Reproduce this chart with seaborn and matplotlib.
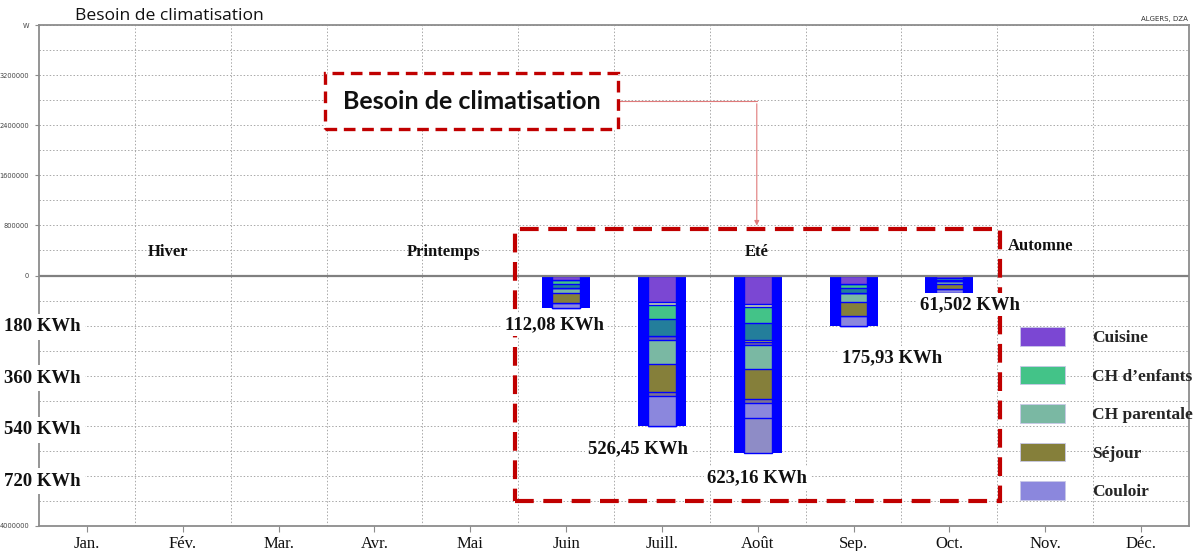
import numpy as np
import pandas as pd
import matplotlib
matplotlib.use("Agg")
import matplotlib.pyplot as plt
import matplotlib.transforms as mtransforms
from matplotlib.patches import Patch, Rectangle
import seaborn as sns

# ---------------------------------------------------------------- data
months = ["Jan.", "Fév.", "Mar.", "Avr.", "Mai", "Juin", "Juill.", "Août",
          "Sep.", "Oct.", "Nov.", "Déc."]

# monthly cooling need (KWh)
cooling_kwh = [0, 0, 0, 0, 0, 112.08, 526.45, 623.16, 175.93, 61.502, 1.5, 0]

# breakdown by zone, listed from the top of each bar downwards (KWh)
cuisine      = [0, 0, 0, 0, 0, 17.24, 93.8, 101.05, 31.42, 10.2, 0, 0]
bande_claire = [0, 0, 0, 0, 0, 0, 10.8, 10.1, 0, 0, 0, 0]
ch_enfants   = [0, 0, 0, 0, 0, 12.93, 46.9, 53.9, 12.57, 4.1, 0, 0]
zone_bleue   = [0, 0, 0, 0, 0, 12.93, 61.3, 60.6, 18.85, 6.2, 0, 0]
bande_jaune  = [0, 0, 0, 0, 0, 0, 0, 6.7, 0, 0, 0, 0]
bande_mauve  = [0, 0, 0, 0, 0, 0, 14.4, 10.1, 0, 0, 0, 0]
ch_parentale = [0, 0, 0, 0, 0, 17.24, 82.9, 84.2, 28.27, 9.3, 0, 0]
sejour       = [0, 0, 0, 0, 0, 34.49, 97.4, 104.4, 50.27, 18.9, 0, 0]
bande_grise  = [0, 0, 0, 0, 0, 0, 14.4, 16.8, 0, 0, 0, 0]
couloir      = [0, 0, 0, 0, 0, 17.25, 104.55, 50.5, 34.55, 12.802, 0, 0]
couloir_bas  = [0, 0, 0, 0, 0, 0, 0, 124.81, 0, 0, 0, 0]

seasons = ["Hiver", "Printemps", "Eté", "Automne"]
scale_labels_kwh = [180, 360, 540, 720]
legend_zones = ["Cuisine", "CH d’enfants", "CH parentale", "Séjour", "Couloir"]

# ---------------------------------------------------------------- styling
W_PER_KWH = 4560.0          # power axis units per KWh of bar length
SERIF = "Liberation Serif"
SANS = "Lato"
RED = "#C00000"
BLUE = "#0000FF"
GRID = "#A8A8A8"
SPINE = "#8C8C8C"

segments = pd.DataFrame({
    "Cuisine": cuisine,
    "bande_claire": bande_claire,
    "CH d’enfants": ch_enfants,
    "zone_bleue": zone_bleue,
    "bande_jaune": bande_jaune,
    "bande_mauve": bande_mauve,
    "CH parentale": ch_parentale,
    "Séjour": sejour,
    "bande_grise": bande_grise,
    "Couloir": couloir,
    "couloir_bas": couloir_bas,
}, index=months)

zone_colors = {
    "Cuisine": "#7B47D3",
    "bande_claire": "#C9D6A6",
    "CH d’enfants": "#43C388",
    "zone_bleue": "#237E9B",
    "bande_jaune": "#C8C830",
    "bande_mauve": "#6E5FA8",
    "CH parentale": "#7AB8A3",
    "Séjour": "#857F3A",
    "bande_grise": "#7D7390",
    "Couloir": "#8B87DD",
    "couloir_bas": "#8E8CC6",
}
outer_colors = [BLUE] * 10 + ["#8A8AF0", BLUE]

sns.set_theme(style="white")
plt.rcParams["font.family"] = ["DejaVu Sans"]

fig = plt.figure(figsize=(11.98, 5.51), dpi=100)
ax = fig.add_axes([39 / 1198, 1 - 526 / 551, 1150 / 1198, 501 / 551])

# outer blue bars
outer = pd.DataFrame({"mois": months,
                      "val": [-v if v > 0 else np.nan for v in cooling_kwh]})
sns.barplot(data=outer, x="mois", y="val", hue="mois", order=months,
            hue_order=months, palette=outer_colors, legend=False, dodge=False,
            width=0.5, saturation=1, errorbar=None, linewidth=0, ax=ax)

# inner stacked zones (cumulative depths drawn deepest first)
cum = segments.cumsum(axis=1)
for name in reversed(segments.columns):
    depth = (-cum[name]).where(cum[name] > 0)
    df = pd.DataFrame({"mois": months, "val": depth.values})
    sns.barplot(data=df, x="mois", y="val", order=months,
                color=zone_colors[name], width=0.29, saturation=1,
                errorbar=None, edgecolor=BLUE, linewidth=1.0, ax=ax)

# ---------------------------------------------------------------- axes
ymax = 4_000_000 / W_PER_KWH
ax.set_xlim(-0.5, 11.5)
ax.set_ylim(-ymax, ymax)
ax.set_xlabel("")
ax.set_ylabel("")

w_major = np.arange(-4_000_000, 4_000_001, 800_000)
w_minor = np.arange(-4_000_000, 4_000_001, 400_000)
ax.set_yticks(w_major / W_PER_KWH)
ax.set_yticks(w_minor / W_PER_KWH, minor=True)
ylabels = []
for w in w_major:
    if w == 4_000_000:
        ylabels.append("W")
    elif w == -4_000_000:
        ylabels.append("4000000")
    elif w >= 0:
        ylabels.append(f"{int(w)}")
    else:
        ylabels.append("")
ax.set_yticklabels(ylabels, fontsize=4.8, color="#444444")
ax.tick_params(axis="y", which="major", length=3, width=0.8, color=SPINE,
               pad=4, left=True)
ax.tick_params(axis="y", which="minor", length=0)

ax.set_xticks(range(12))
ax.set_xticks(np.arange(0.5, 11.5, 1), minor=True)
ax.set_xticklabels(months, fontfamily=SERIF, fontsize=12, color="#111111")
ax.tick_params(axis="x", which="major", length=4, width=0.8, color=SPINE,
               pad=3, bottom=True)
ax.tick_params(axis="x", which="minor", length=0)

ax.grid(False)
ax.grid(axis="y", which="both", linestyle=(0, (1.5, 2)), color=GRID, lw=0.7)
ax.grid(axis="x", which="minor", linestyle=(0, (1.5, 2)), color=GRID, lw=0.7)
ax.set_axisbelow(True)
for s in ax.spines.values():
    s.set_visible(True)
    s.set_color(SPINE)
    s.set_linewidth(1.3)
ax.axhline(0, color="#808080", lw=1.6, zorder=1.5)

# ---------------------------------------------------------------- texts
fig.text(75 / 1198, 1 - 16 / 551, "Besoin de climatisation",
         fontfamily="Open Sans", fontsize=12.6, va="center", ha="left",
         color="#111111")
fig.text(1188 / 1198, 1 - 19 / 551, "ALGERS, DZA", fontsize=5,
         va="center", ha="right", color="#333333")

season_pos = [(0.85, 84), (3.72, 84), (6.99, 84), (9.95, 102)]
for name, (sx, sy) in zip(seasons, season_pos):
    ax.text(sx, sy, name, fontfamily=SERIF, fontweight="bold", fontsize=12,
            ha="center", va="center", color="#111111", zorder=7)

value_pos = {5: (4.874, -172), 6: (5.75, -607), 7: (6.99, -709),
             8: (8.40, -288), 9: (9.215, -102)}
for i, (lx, ly) in value_pos.items():
    txt = f"{cooling_kwh[i]:g}".replace(".", ",") + " KWh"
    ax.text(lx, ly, txt, fontfamily=SERIF, fontweight="bold", fontsize=13.5,
            ha="center", va="center", color="#111111", zorder=8,
            bbox=dict(boxstyle="square,pad=0.15", fc="white", ec="none"))

blend = mtransforms.blended_transform_factory(ax.transAxes, ax.transData)
for k in scale_labels_kwh:
    ax.text(0.0026, -k, f"{k} KWh", transform=blend, fontfamily=SERIF,
            fontweight="bold", fontsize=13.5, ha="center", va="center",
            color="#111111", zorder=8, clip_on=False,
            bbox=dict(boxstyle="square,pad=0.25", fc="white", ec="none"))

# callout box and its connector
ax.add_patch(Rectangle((2.484, 512.3), 3.058, 196.5, fc="white", ec=RED,
                       lw=2.4, linestyle=(0, (3.5, 2)), zorder=6))
ax.text(4.013, 610.5, "Besoin de climatisation", fontfamily=SANS,
        fontweight="bold", fontsize=18, ha="center", va="center",
        color="#111111", zorder=7)
ax.plot([5.542, 6.99], [610.5, 610.5], color="#E07A7A", lw=0.8, zorder=5)
ax.annotate("", xy=(6.99, 165), xytext=(6.99, 611),
            arrowprops=dict(arrowstyle="-|>", color="#E07A7A", lw=0.8,
                            mutation_scale=7), zorder=5)

# summer frame
ax.add_patch(Rectangle((4.467, -789.5), 5.061, 950.9, fill=False, ec=RED,
                       lw=3, linestyle=(0, (4.5, 2.3)), zorder=6))

# zone legend
handles = [Patch(facecolor=zone_colors[z], edgecolor="#C8C8E8", lw=0.6)
           for z in legend_zones]
ax.legend(handles, legend_zones, loc="upper left",
          bbox_to_anchor=(1020 / 1198, 1 - 327 / 551),
          bbox_transform=fig.transFigure, frameon=False,
          prop=dict(family=SERIF, weight="bold", size=12.5),
          handlelength=2.6, handleheight=1.27, handletextpad=1.55,
          labelspacing=1.12, borderpad=0, borderaxespad=0)

fig.savefig("out.png", dpi=100)
